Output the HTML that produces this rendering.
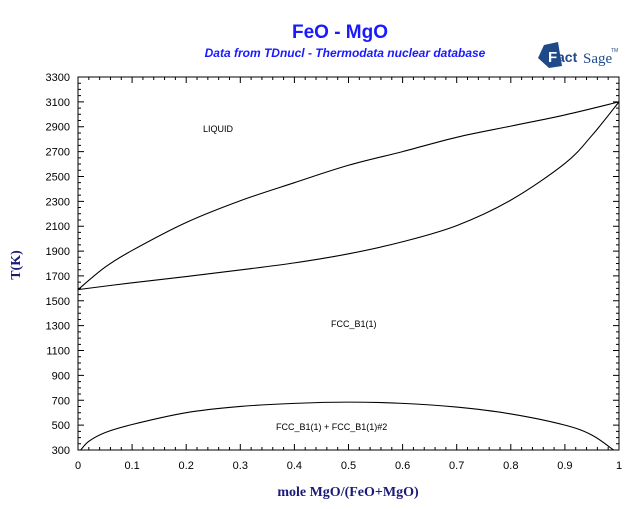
<!DOCTYPE html>
<html><head><meta charset="utf-8"><style>
body{margin:0;background:#fff;width:640px;height:504px;overflow:hidden}
svg text{font-family:"Liberation Sans",sans-serif}
</style></head><body>
<svg id="c" width="640" height="504">
<text x="340" y="38" text-anchor="middle" font-size="19" font-weight="bold" fill="#1a1aff">FeO - MgO</text>
<text x="345" y="57" text-anchor="middle" font-size="12" font-weight="bold" font-style="italic" fill="#1a1aff">Data from TDnucl - Thermodata nuclear database</text>
<g>
<polygon points="544,45 558,42 562,66 549,68 538,58" fill="#1f4a8a"/>
<text x="548" y="62" font-size="15" font-weight="bold" fill="#fff">F</text>
<text x="557" y="62" font-size="14" font-weight="bold" fill="#1f4a8a">act</text>
<text x="583" y="63" font-size="15" fill="#1f4a8a" style="font-family:'Liberation Serif',serif">Sage</text>
<text x="611" y="52" font-size="5" fill="#1f4a8a">TM</text>
</g>
<text x="20" y="265" transform="rotate(-90 20 265)" text-anchor="middle" font-size="14" font-weight="bold" fill="#1a1a7a" style="font-family:'Liberation Serif',serif">T(K)</text>
<text x="348" y="496" text-anchor="middle" font-size="14" font-weight="bold" fill="#1a1a7a" style="font-family:'Liberation Serif',serif">mole MgO/(FeO+MgO)</text>
<text x="203" y="132" font-size="9">LIQUID</text>
<text x="331" y="327" font-size="9">FCC_B1(1)</text>
<text x="276" y="430" font-size="9">FCC_B1(1) + FCC_B1(1)#2</text>
<g id="axes"></g><g id="curves"></g>
</svg>
<script>
const liqX=[0,0.05,0.1,0.2,0.3,0.4,0.5,0.6,0.7,0.8,0.9,1.0];
const liqT=[1590,1770,1905,2130,2305,2450,2590,2700,2815,2905,2995,3100];
const solX=[0,0.1,0.2,0.3,0.4,0.5,0.6,0.7,0.8,0.9,0.95,1.0];
const solT=[1590,1645,1695,1748,1805,1878,1975,2105,2310,2605,2830,3100];
const gapX=[0.005,0.02,0.05,0.1,0.2,0.3,0.4,0.5,0.6,0.7,0.8,0.9,0.95,0.99];
const gapT=[300,370,440,505,600,650,675,685,675,645,590,500,420,300];
const xTicks=[0,0.1,0.2,0.3,0.4,0.5,0.6,0.7,0.8,0.9,1];
const yTicks=[300,500,700,900,1100,1300,1500,1700,1900,2100,2300,2500,2700,2900,3100,3300];
const X0=78,X1=619,Y0=450,Y1=77;
const sx=v=>X0+v*(X1-X0);
const sy=t=>Y0-(t-300)/3000*(Y0-Y1);
const NS="http://www.w3.org/2000/svg";
function mk(tag,attrs,parent){const e=document.createElementNS(NS,tag);for(const k in attrs)e.setAttribute(k,attrs[k]);parent.appendChild(e);return e;}
const ax=document.getElementById('axes');
const fr=mk('rect',{x:X0,y:Y1,width:X1-X0,height:Y0-Y1,fill:'none',stroke:'#000','stroke-width':1},ax);


let p='';
for(let i=0;i<=50;i++){const x=sx(i/50);const L=i%5==0?6:3;p+=`M${x},${Y0}v${-L}M${x},${Y1}v${L}`;}
for(let i=0;i<=60;i++){const y=sy(300+i*50);const L=i%4==0?6:3;p+=`M${X0},${y}h${L}M${X1},${y}h${-L}`;}
const tk=mk('path',{d:p,stroke:'#000','stroke-width':1,fill:'none'},ax);


xTicks.forEach(v=>{const t=mk('text',{x:sx(v),y:469,'text-anchor':'middle','font-size':11},ax);t.textContent=String(v);

});
yTicks.forEach(v=>{const t=mk('text',{x:70,y:sy(v)+4,'text-anchor':'end','font-size':11},ax);t.textContent=String(v);

});
const cv=document.getElementById('curves');
function line(xs,ts,name){
  const pts=xs.map((x,i)=>[sx(x),sy(ts[i])]);
  let d='M'+pts[0].join(',');
  for(let i=0;i<pts.length-1;i++){
    const p0=pts[i-1]||pts[i],p1=pts[i],p2=pts[i+1],p3=pts[i+2]||p2;
    d+=`C${p1[0]+(p2[0]-p0[0])/6},${p1[1]+(p2[1]-p0[1])/6} ${p2[0]-(p3[0]-p1[0])/6},${p2[1]-(p3[1]-p1[1])/6} ${p2[0]},${p2[1]}`;
  }
  const e=mk('path',{d:d,fill:'none',stroke:'#000','stroke-width':1.1},cv);
  
  
}
line(liqX,liqT,'liquidus-curve');
line(solX,solT,'solidus-curve');
line(gapX,gapT,'miscibility-gap-curve');
</script>
</body></html>
